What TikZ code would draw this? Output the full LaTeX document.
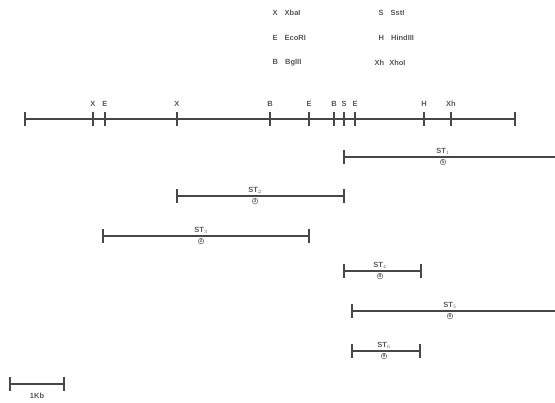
\documentclass[tikz,border=0pt]{standalone}
\usepackage{fontspec}
\setmainfont{Liberation Sans}
\begin{document}
\begin{tikzpicture}[x=1pt,y=-1pt,
  seg/.style={draw=black!72,line width=1.6pt},
  tk/.style={draw=black!72,line width=1.1pt},
  lab/.style={font=\fontsize{7.5}{8}\selectfont\bfseries,text=black!65,inner sep=0.5pt},
  stl/.style={font=\fontsize{7.5}{8}\selectfont\bfseries,text=black!65,inner sep=0.5pt},
  circ/.style={draw=black!55,circle,inner sep=0.4pt,line width=0.6pt,font=\fontsize{5}{5}\selectfont\bfseries,text=black!65}]
\useasboundingbox (0,0) rectangle (555,403);
% legend
\node[lab,anchor=west] (l1) at (272,13) {X\hspace{7pt}XbaI};
\node[lab,anchor=west] (l2) at (378,13) {S\hspace{7pt}SstI};
\node[lab,anchor=west] (l3) at (272,38) {E\hspace{7pt}EcoRI};
\node[lab,anchor=west] (l4) at (378,38) {H\hspace{7pt}HindIII};
\node[lab,anchor=west] (l5) at (272,63) {B\hspace{7pt}BglII};
\node[lab,anchor=west] (l6) at (374,63) {Xh\hspace{5pt}XhoI};
% main map
\coordinate (m0) at (25,119);
\coordinate (m12) at (515,119);
\draw[seg] (m0) -- (m12);
\foreach \x/\t/\n in {25//a,93/X/b,105/E/c,177/X/d,270/B/e,309/E/f,334/B/g,344/S/h,355/E/i,424/H/j,451/Xh/k,515//l}{
  \coordinate (t\n) at (\x,119);
  \draw[tk] ([yshift=-7pt]t\n) -- ([yshift=7pt]t\n);
  \node[lab] (tl\n) at (\x,104) {\t};
}
% fragments
\newcommand{\frag}[7]{%
  \coordinate (#1a) at (#2,#4);
  \coordinate (#1b) at (#3,#4);
  \draw[seg] (#1a) -- (#1b);
  \draw[tk] ([yshift=-7pt]#1a) -- ([yshift=7pt]#1a);
  \ifdim #3pt<550pt \draw[tk] ([yshift=-7pt]#1b) -- ([yshift=7pt]#1b);\fi
  \node[stl,anchor=south] (#1l) at (#5,#4-1.5) {ST$_{#6}$};
  \node[circ,anchor=north] (#1c) at (#5,#4+2) {#7};
}
\frag{s1}{344}{560}{157}{443}{1}{5}
\frag{s2}{177}{344}{196}{255}{2}{3}
\frag{s3}{103}{309}{236}{201}{3}{2}
\frag{s4}{344}{421}{271}{380}{4}{8}
\frag{s5}{352}{560}{311}{450}{5}{6}
\frag{s6}{352}{420}{351}{384}{6}{9}
% scale bar
\coordinate (sa) at (10,384);
\coordinate (sb) at (64,384);
\draw[seg] (sa) -- (sb);
\draw[tk] ([yshift=-7pt]sa) -- ([yshift=7pt]sa);
\draw[tk] ([yshift=-7pt]sb) -- ([yshift=7pt]sb);
\node[lab] (kb) at (37,396) {1Kb};
\end{tikzpicture}
\end{document}
